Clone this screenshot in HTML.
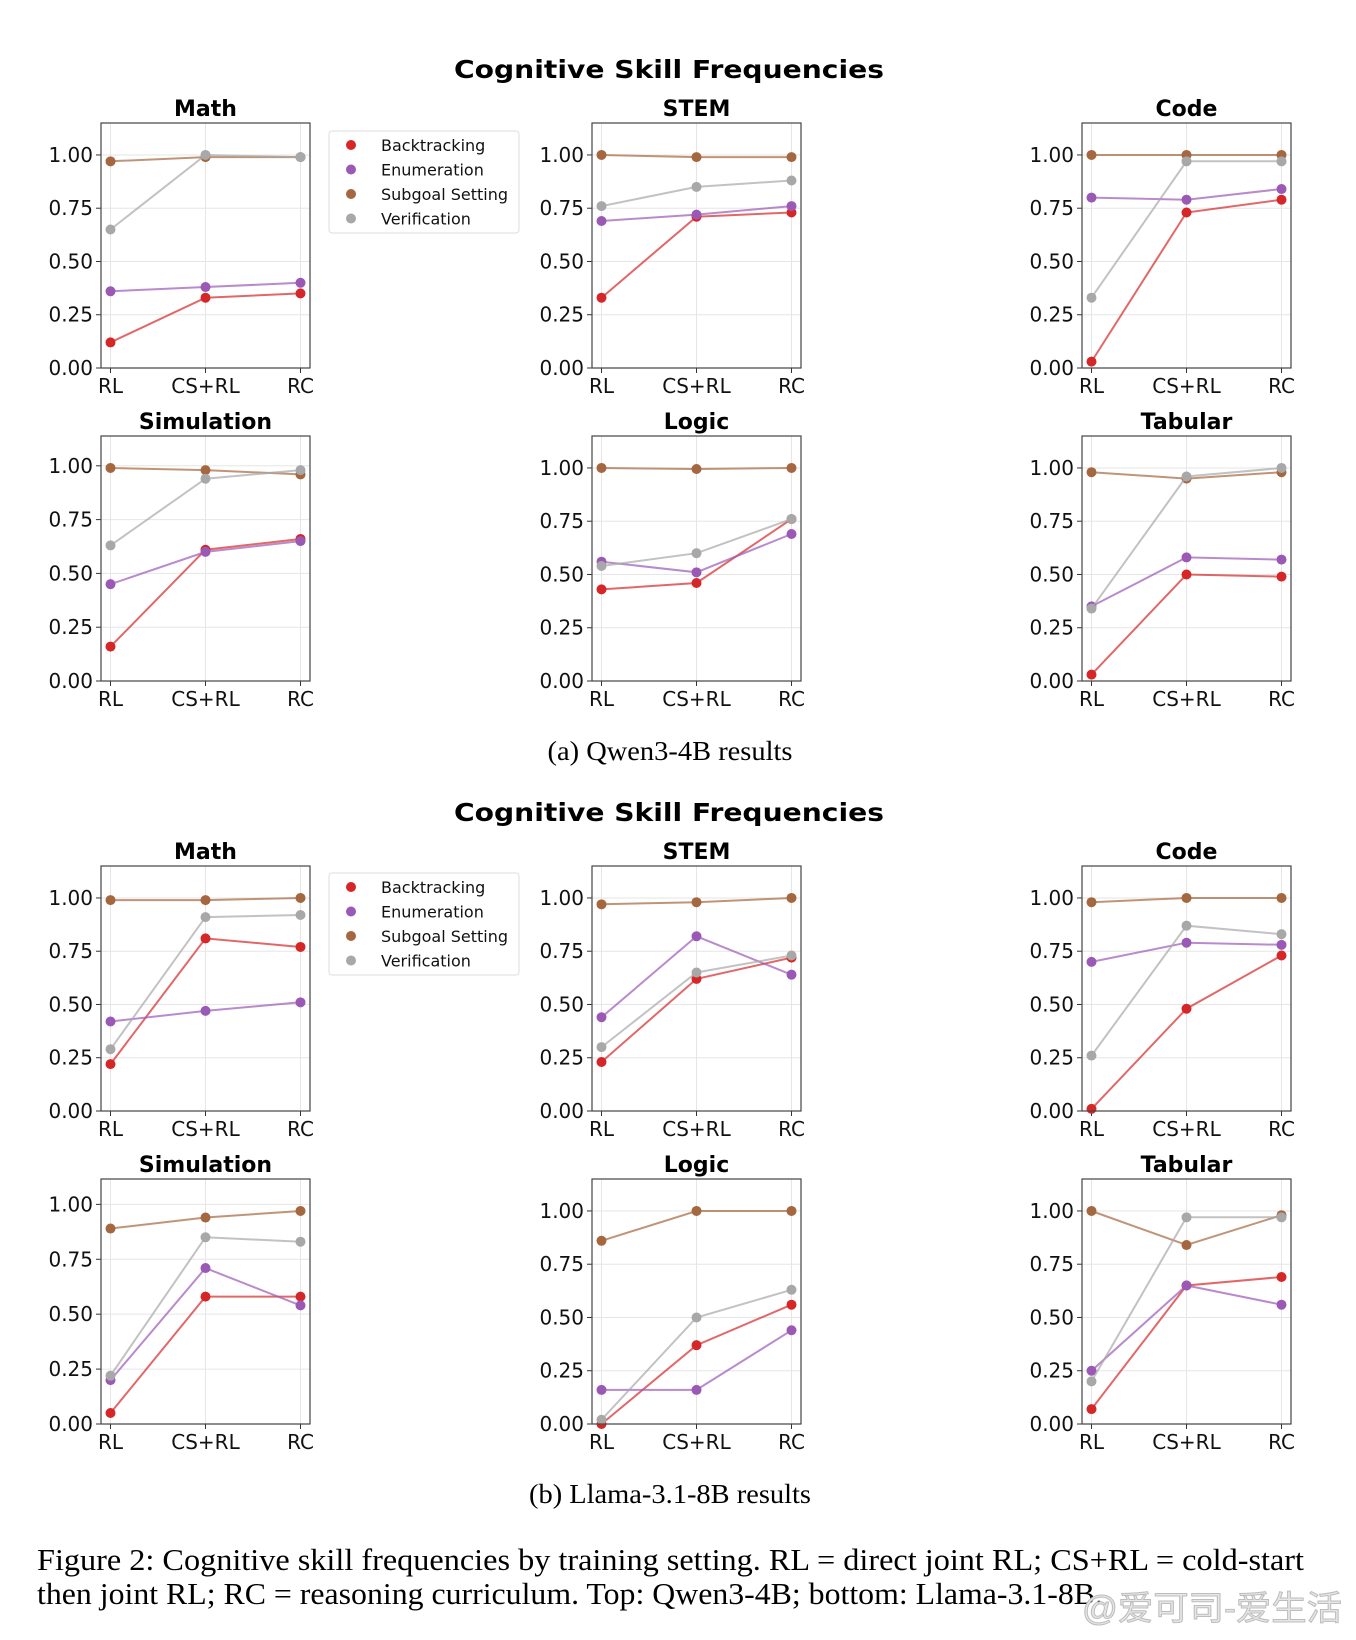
<!DOCTYPE html>
<html><head><meta charset="utf-8"><style>
html,body{margin:0;padding:0;background:#fff;}
svg{display:block;}
</style></head><body>
<svg id="fig" width="1356" height="1640" viewBox="0 0 1356 1640" xmlns="http://www.w3.org/2000/svg" font-family="DejaVu Sans, Liberation Sans, sans-serif">
<rect width="1356" height="1640" fill="#fff"/>
<text x="669" y="78" font-size="25" font-weight="bold" text-anchor="middle" textLength="430" lengthAdjust="spacingAndGlyphs">Cognitive Skill Frequencies</text>
<text x="669" y="821" font-size="25" font-weight="bold" text-anchor="middle" textLength="430" lengthAdjust="spacingAndGlyphs">Cognitive Skill Frequencies</text>
<text x="670" y="760" font-family="Liberation Serif, serif" font-size="27" text-anchor="middle" textLength="245" lengthAdjust="spacingAndGlyphs">(a) Qwen3-4B results</text>
<text x="670" y="1503" font-family="Liberation Serif, serif" font-size="27" text-anchor="middle" textLength="282" lengthAdjust="spacingAndGlyphs">(b) Llama-3.1-8B results</text>
<text x="37" y="1570" font-family="Liberation Serif, serif" font-size="31" textLength="1267" lengthAdjust="spacingAndGlyphs">Figure 2: Cognitive skill frequencies by training setting. RL = direct joint RL; CS+RL = cold-start</text>
<text x="37" y="1604" font-family="Liberation Serif, serif" font-size="31" textLength="1066" lengthAdjust="spacingAndGlyphs">then joint RL; RC = reasoning curriculum. Top: Qwen3-4B; bottom: Llama-3.1-8B.</text>
<text x="1082" y="1620" font-family="Liberation Sans, Noto Sans CJK SC, sans-serif" font-size="34" fill="#e6e6e6" stroke="#bdbdbd" stroke-width="1" textLength="260" lengthAdjust="spacingAndGlyphs">@爱可司-爱生活</text>
<g id="plots"></g>
</svg>
<script>
const categories = ["RL", "CS+RL", "RC"];
const seriesNames = ["Backtracking", "Enumeration", "Subgoal Setting", "Verification"];
const yTicks = [0, 0.25, 0.5, 0.75, 1.0];
const yTickLabels = ["0.00", "0.25", "0.50", "0.75", "1.00"];
const panelTitles = ["Math", "STEM", "Code", "Simulation", "Logic", "Tabular"];
// Qwen3-4B: [Backtracking, Enumeration, Subgoal, Verification]
const qwenMath = [[0.12,0.33,0.35],[0.36,0.38,0.40],[0.97,0.99,0.99],[0.65,1.00,0.99]];
const qwenSTEM = [[0.33,0.71,0.73],[0.69,0.72,0.76],[1.00,0.99,0.99],[0.76,0.85,0.88]];
const qwenCode = [[0.03,0.73,0.79],[0.80,0.79,0.84],[1.00,1.00,1.00],[0.33,0.97,0.97]];
const qwenSimulation = [[0.16,0.61,0.66],[0.45,0.60,0.65],[0.99,0.98,0.96],[0.63,0.94,0.98]];
const qwenLogic = [[0.43,0.46,0.76],[0.56,0.51,0.69],[1.00,0.995,1.00],[0.54,0.60,0.76]];
const qwenTabular = [[0.03,0.50,0.49],[0.35,0.58,0.57],[0.98,0.95,0.98],[0.34,0.96,1.00]];
// Llama-3.1-8B
const llamaMath = [[0.22,0.81,0.77],[0.42,0.47,0.51],[0.99,0.99,1.00],[0.29,0.91,0.92]];
const llamaSTEM = [[0.23,0.62,0.72],[0.44,0.82,0.64],[0.97,0.98,1.00],[0.30,0.65,0.73]];
const llamaCode = [[0.01,0.48,0.73],[0.70,0.79,0.78],[0.98,1.00,1.00],[0.26,0.87,0.83]];
const llamaSimulation = [[0.05,0.58,0.58],[0.20,0.71,0.54],[0.89,0.94,0.97],[0.22,0.85,0.83]];
const llamaLogic = [[0.00,0.37,0.56],[0.16,0.16,0.44],[0.86,1.00,1.00],[0.02,0.50,0.63]];
const llamaTabular = [[0.07,0.65,0.69],[0.25,0.65,0.56],[1.00,0.84,0.98],[0.20,0.97,0.97]];

const qwenData = [qwenMath, qwenSTEM, qwenCode, qwenSimulation, qwenLogic, qwenTabular];
const llamaData = [llamaMath, llamaSTEM, llamaCode, llamaSimulation, llamaLogic, llamaTabular];

const colors = ["#d62728", "#9b59b6", "#a5673f", "#a8a8a8"];
const NS = "http://www.w3.org/2000/svg";
const root = document.getElementById("plots");
function mk(tag, attrs, parent) {
  const e = document.createElementNS(NS, tag);
  for (const k in attrs) e.setAttribute(k, attrs[k]);
  (parent || root).appendChild(e);
  return e;
}
const colX = [101, 592, 1082];
const W = 209, H = 245;

function drawPanel(data, title, left, top, prefix) {
  const g = mk("g", {});
  
  
  let mx = 0;
  data.forEach(s => s.forEach(v => { if (v > mx) mx = v; }));
  const ymax = mx * 1.15;
  const xs = i => left + (i + 0.1) / 2.2 * W;
  const ys = v => top + H - v / ymax * H;
  // grid
  yTicks.forEach((t, i) => {
    const gl = mk("line", {x1: left, x2: left + W, y1: ys(t), y2: ys(t), stroke: "#e6e6e6", "stroke-width": 1}, g);
    
    
    mk("line", {x1: left - 5, x2: left, y1: ys(t), y2: ys(t), stroke: "#333", "stroke-width": 1}, g);
    const tl = mk("text", {x: left - 8, y: ys(t) + 7, "font-size": 20, "text-anchor": "end", fill: "#111"}, g);
    tl.textContent = yTickLabels[i];
    
    
  });
  categories.forEach((c, i) => {
    const gl = mk("line", {x1: xs(i), x2: xs(i), y1: top, y2: top + H, stroke: "#e6e6e6", "stroke-width": 1}, g);
    
    
    mk("line", {x1: xs(i), x2: xs(i), y1: top + H, y2: top + H + 5, stroke: "#333", "stroke-width": 1}, g);
    const tl = mk("text", {x: xs(i), y: top + H + 25, "font-size": 20, "text-anchor": "middle", fill: "#111"}, g);
    tl.textContent = c;
    
    
  });
  data.forEach((s, si) => {
    const pts = s.map((v, i) => xs(i).toFixed(1) + "," + ys(v).toFixed(1)).join(" ");
    const pl = mk("polyline", {points: pts, fill: "none", stroke: colors[si], "stroke-width": 2, "stroke-opacity": 0.7}, g);
    
    
    s.forEach((v, i) => {
      const c = mk("circle", {cx: xs(i), cy: ys(v), r: 5, fill: colors[si]}, g);
      
      
    });
  });
  const frame = mk("rect", {x: left, y: top, width: W, height: H, fill: "none", stroke: "#444", "stroke-width": 1.2}, g);
  
  
  const tt = mk("text", {x: left + W / 2, y: top - 7, "font-size": 22, "font-weight": "bold", "text-anchor": "middle"}, g);
  tt.textContent = title;
  
  
}

function drawLegend(left, top, prefix) {
  const g = mk("g", {});
  
  
  mk("rect", {x: left, y: top, width: 190, height: 102, rx: 3, fill: "#fff", stroke: "#ddd", "stroke-width": 1}, g);
  seriesNames.forEach((n, i) => {
    const y = top + 14 + i * 24.5;
    const c = mk("circle", {cx: left + 22, cy: y, r: 5, fill: colors[i]}, g);
    
    
    const t = mk("text", {x: left + 52, y: y + 6, "font-size": 16, fill: "#111"}, g);
    t.textContent = n;
    
    
  });
}

const qwenRows = [123, 436];
const llamaRows = [866, 1179];
qwenData.forEach((d, k) => drawPanel(d, panelTitles[k], colX[k % 3], qwenRows[Math.floor(k / 3)], 'qwen'));
llamaData.forEach((d, k) => drawPanel(d, panelTitles[k], colX[k % 3], llamaRows[Math.floor(k / 3)], 'llama'));
drawLegend(329, 131, 'qwen');
drawLegend(329, 873, 'llama');
</script>
</body></html>
